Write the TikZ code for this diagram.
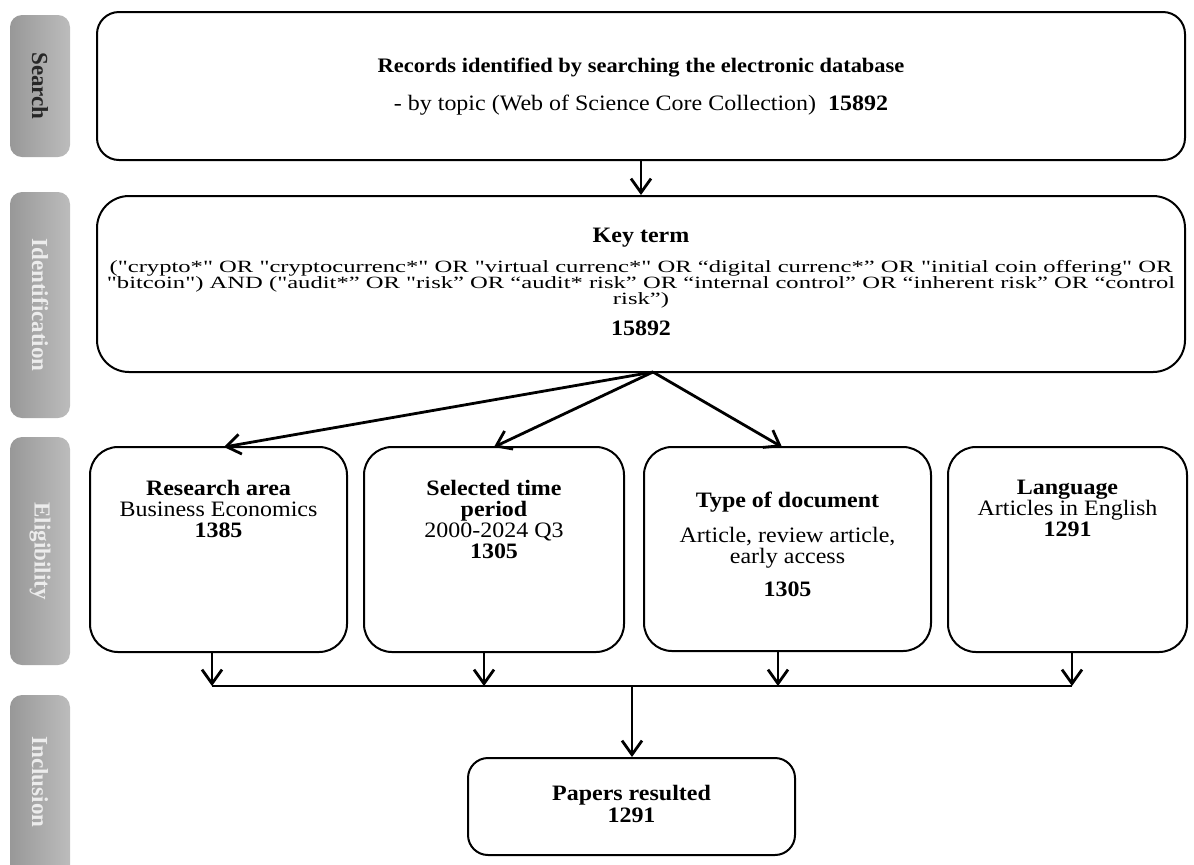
\documentclass[tikz,border=0pt]{standalone}
\usepackage{fontspec}
\setmainfont{Liberation Serif}[FakeStretch=1.09, Ligatures=TeXOff]
\newfontfamily\keyfont{Liberation Serif}[FakeStretch=1.43, Ligatures=TeXOff]
\newfontfamily\tabfont{Liberation Serif}
\usetikzlibrary{arrows.meta,positioning,shapes}
\definecolor{tabdark}{RGB}{152,152,152}
\definecolor{tablight}{RGB}{188,188,188}
\definecolor{tabtext}{RGB}{236,236,236}

\begin{document}
\lineskiplimit=-10pt
\begin{tikzpicture}[
    x=0.5pt, y=-0.5pt,
    font=\fontsize{11}{10.5}\selectfont,
    tab/.style={rectangle, rounded corners=6pt, left color=tabdark, right color=tablight, minimum width=30pt, inner sep=0pt},
    tablabel/.style={rotate=-90, inner sep=0pt, font=\tabfont\fontsize{11.5}{13}\selectfont\bfseries},
    box/.style={rectangle, draw, line width=1pt, rounded corners=14pt, inner sep=0pt},
    txt/.style={align=center, inner sep=0pt, anchor=north},
    arr/.style={line width=1.4pt, -{Straight Barb[length=7pt,width=10pt]}}
]
\useasboundingbox (0,0) rectangle (1194,864);

% stage tabs
\node[tab, minimum height=71pt] (tsearch) at (40,86) {};
\node[tab, minimum height=113pt] (tident) at (40,305) {};
\node[tab, minimum height=114pt] (telig) at (40,551) {};
\node[tab, minimum height=95pt] (tincl) at (40,790) {};
\node[tablabel, text=black!85] at (tsearch) {Search};
\node[tablabel, text=tabtext] at (tident) {Identification};
\node[tablabel, text=tabtext] at (telig) {Eligibility};
\node[tablabel, text=tabtext] at (tincl.center |- 0,782) {Inclusion};

% search
\node[box, rounded corners=11pt, minimum width=544pt, minimum height=74pt] (search) at (641,86) {};
\node[txt] at (641,57.5) {{\fontsize{10.3}{10.5}\selectfont\textbf{Records identified by searching the electronic database}}\\[8.5pt]
    - by topic (Web of Science Core Collection)\ \ \textbf{15892}};

% identification
\node[box, rounded corners=16pt, minimum width=544pt, minimum height=88pt] (ident) at (641,284) {};
\node[txt] at (641,227.5) {\textbf{Key term}};
\node[txt, font=\keyfont\fontsize{8.6}{8}\selectfont] (query) at (641,259.5) {%
    ("crypto*" OR "cryptocurrenc*" OR "virtual currenc*" OR “digital currenc*” OR "initial coin offering" OR\\
    "bitcoin") AND ("audit*” OR "risk” OR “audit* risk” OR “internal control” OR “inherent risk” OR “control\\
    risk”)};
\node[txt] at (641,320.5) {\textbf{15892}};

% eligibility
\node[box, minimum width=128.5pt, minimum height=102.5pt] (area) at (218.5,549.5) {};
\node[box, minimum width=130pt, minimum height=102.5pt] (period) at (494,549.5) {};
\node[box, minimum width=143.5pt, minimum height=102pt] (doctype) at (787.5,549) {};
\node[box, minimum width=119.5pt, minimum height=102.5pt] (lang) at (1067.5,549.5) {};

\node[txt] at (area.north |- 0,479.5) {\textbf{Research area}\\Business Economics\\\textbf{1385}};
\node[txt] at (period.north |- 0,479.5) {\textbf{Selected time}\\\textbf{period}\\2000-2024 Q3\\\textbf{1305}};
\node[txt] at (doctype.north |- 0,491.5) {\textbf{Type of document}\\[7pt]Article, review article,\\early access\\[6pt]\textbf{1305}};
\node[txt] at (lang.north |- 0,479.5) {\textbf{Language}\\Articles in English\\\textbf{1291}};

% inclusion
\node[box, rounded corners=10pt, minimum width=163.5pt, minimum height=48.5pt] (papers) at (631.5,806.5) {};
\node[txt] at (631.5,784.5) {\textbf{Papers resulted}\\[0.5pt]\textbf{1291}};

\coordinate (fork) at (653,372);
\coordinate (join) at (632,686);

\draw[arr] (search.south -| 641,0) -- (ident.north -| 641,0);
\draw[arr] (fork) -- (224,447);
\draw[arr] (fork) -- (494,447);
\draw[arr] (fork) -- (782,447);

\draw[arr] (area.south -| 212,0) -- (212,686);
\draw[arr] (period.south -| 484,0) -- (484,686);
\draw[arr] (doctype.south -| 778,0) -- (778,686);
\draw[arr] (lang.south -| 1072,0) -- (1072,686);
\draw[line width=1.4pt] (212,686) -- (1072,686);
\draw[arr] (join) -- (papers.north -| join);

\end{tikzpicture}
\end{document}
